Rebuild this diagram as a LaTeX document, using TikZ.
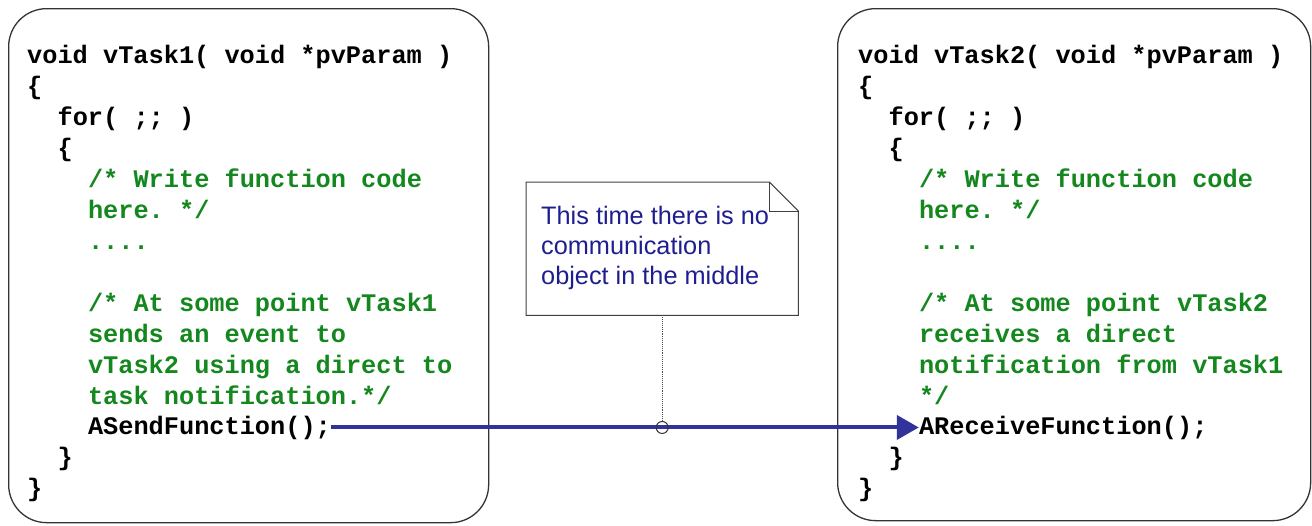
\documentclass[tikz,border=0pt]{standalone}
\usepackage{fontspec}
\setmainfont{Liberation Sans}
\setmonofont{Liberation Mono}
\usetikzlibrary{arrows.meta}
\definecolor{cgreen}{RGB}{20,135,30}
\definecolor{cblue}{RGB}{50,50,155}
\definecolor{ntext}{RGB}{30,30,145}
\begin{document}
\begin{tikzpicture}[x=1pt,y=-1pt,
  code/.style={font=\ttfamily\bfseries\fontsize{25.3}{31}\selectfont, anchor=base west, inner sep=0pt, text=black},
  cmt/.style={code, text=cgreen},
  tbox/.style={draw=black!80, line width=1.3pt, rounded corners=38pt, anchor=north west, inner sep=0pt},
  ntxt/.style={font=\fontsize{25.3}{30}\selectfont, text=ntext, anchor=base west, inner sep=0pt}]
\useasboundingbox (0,0) rectangle (1312,525);

% boxes
\node[tbox, minimum width=480pt, minimum height=514pt] (box1) at (8,8) {};
\node[tbox, minimum width=473pt, minimum height=512pt] (box2) at (837,8) {};

% left code
\node[code] (a1) at (27,63) {void vTask1( void *pvParam )};
\node[code] (a2) at (27,94) {\{};
\node[code] (a3) at (57.4,125) {for( ;; )};
\node[code] (a4) at (57.4,156) {\{};
\node[cmt] (a5) at (87.8,187) {/* Write function code};
\node[cmt] (a6) at (87.8,218) {here. */};
\node[cmt] (a7) at (87.8,249) {....};
\node[cmt] (a8) at (87.8,311) {/* At some point vTask1};
\node[cmt] (a9) at (87.8,342) {sends an event to};
\node[cmt] (a10) at (87.8,373) {vTask2 using a direct to};
\node[cmt] (a11) at (87.8,404) {task notification.*/};
\node[code] (send) at (87.8,434) {ASendFunction();};
\node[code] (a13) at (57.4,465) {\}};
\node[code] (a14) at (27,496) {\}};

% right code
\node[code] (b1) at (858,63) {void vTask2( void *pvParam )};
\node[code] (b2) at (858,94) {\{};
\node[code] (b3) at (888.4,125) {for( ;; )};
\node[code] (b4) at (888.4,156) {\{};
\node[cmt] (b5) at (918.8,187) {/* Write function code};
\node[cmt] (b6) at (918.8,218) {here. */};
\node[cmt] (b7) at (918.8,249) {....};
\node[cmt] (b8) at (918.8,311) {/* At some point vTask2};
\node[cmt] (b9) at (918.8,342) {receives a direct};
\node[cmt] (b10) at (918.8,373) {notification from vTask1};
\node[cmt] (b11) at (918.8,404) {*/};
\node[code] (recv) at (918.8,434) {AReceiveFunction();};
\node[code] (b13) at (888.4,465) {\}};
\node[code] (b14) at (858,496) {\}};

% note
\node[draw=none, minimum width=272pt, minimum height=133pt, anchor=north west, inner sep=0pt] (note) at (526,182) {};
\draw[black!75, line width=1pt]
  (note.north west) -- ([xshift=-29pt]note.north east) -- ([yshift=-29pt]note.north east)
  -- (note.south east) -- (note.south west) -- cycle;
\draw[black!75, line width=1pt]
  ([xshift=-29pt]note.north east) -- ([xshift=-29pt,yshift=-29pt]note.north east) -- ([yshift=-29pt]note.north east);
\node[ntxt] (n1) at (541,224) {This time there is no};
\node[ntxt] (n2) at (541,254) {communication};
\node[ntxt] (n3) at (541,284) {object in the middle};

% arrow
\draw[cblue, line width=4pt, -{Triangle[length=22pt,width=24pt]}]
  (send.east) -- (send.east -| recv.west);
\coordinate (j) at (note.south |- send.east);
\draw[black!70, line width=0.9pt, densely dotted] (note.south) -- ([yshift=6pt]j);
\node[draw=black!80, line width=1pt, circle, minimum size=12pt, inner sep=0pt] (joint) at (j) {};
\end{tikzpicture}
\end{document}
